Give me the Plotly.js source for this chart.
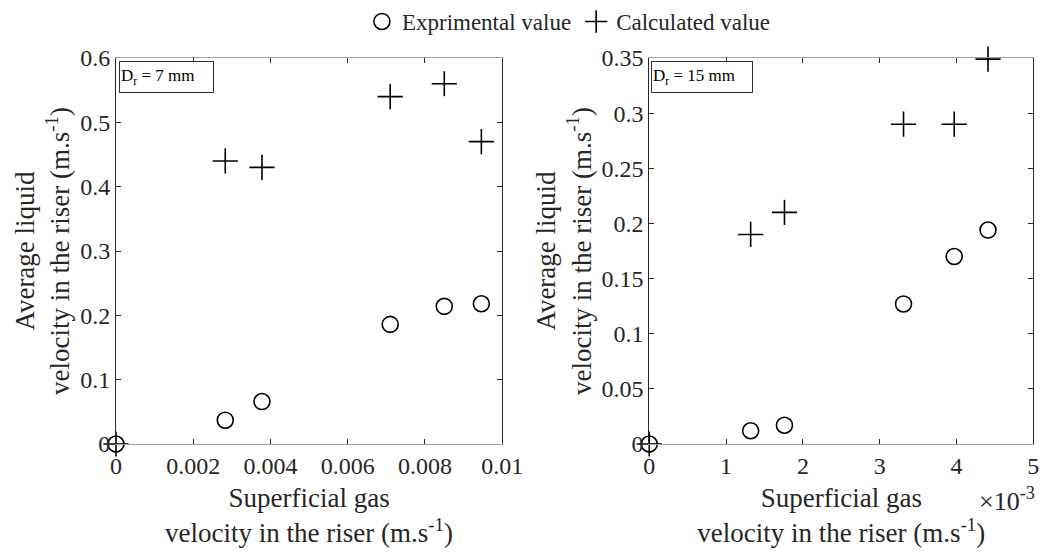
<!DOCTYPE html>
<html>
<head>
<meta charset="utf-8">
<script src="https://cdn.plot.ly/plotly-3.0.1.min.js"></script>
<style>html,body{margin:0;padding:0;background:#fff;}#chart{width:1040px;height:553px;}</style>
</head>
<body>
<div id="chart"></div>
<script>
// ---- Data ----
// Left panel: Dr = 7 mm
const gas7 = [0, 0.00283, 0.00378, 0.0071, 0.0085, 0.00946];
const exp7 = [0, 0.037, 0.066, 0.186, 0.214, 0.218];
const calc7 = [0, 0.44, 0.43, 0.54, 0.56, 0.47];
// Right panel: Dr = 15 mm
const gas15 = [0, 0.00132, 0.00176, 0.00331, 0.00397, 0.00441];
const exp15 = [0, 0.012, 0.017, 0.127, 0.170, 0.194];
const calc15 = [0, 0.19, 0.21, 0.29, 0.29, 0.349];

// Tick values / labels
const x1TickVals = [0, 0.002, 0.004, 0.006, 0.008, 0.01];
const x1TickText = ['0', '0.002', '0.004', '0.006', '0.008', '0.01'];
const y1TickVals = [0, 0.1, 0.2, 0.3, 0.4, 0.5, 0.6];
const y1TickText = ['0', '0.1', '0.2', '0.3', '0.4', '0.5', '0.6'];
const x2TickVals = [0, 0.001, 0.002, 0.003, 0.004, 0.005];
const x2TickText = ['0', '1', '2', '3', '4', '5'];
const y2TickVals = [0, 0.05, 0.1, 0.15, 0.2, 0.25, 0.3, 0.35];
const y2TickText = ['0', '0.05', '0.1', '0.15', '0.2', '0.25', '0.3', '0.35'];

const seriesNames = ['Exprimental value', 'Calculated value'];
const panelLabels = ['D<sub>r</sub> = 7 mm', 'D<sub>r</sub> = 15 mm'];
const xTitle = 'Superficial gas<br>velocity in the riser (m.s<sup>-1</sup>)';
const yTitle = 'Average liquid<br>velocity in the riser (m.s<sup>-1</sup>)';

// ---- Styles ----
const FONT = "'Liberation Serif', 'Times New Roman', serif";
const TXT = '#262626';
const circleMarker = {symbol: 'circle-open', size: 16, color: '#000', line: {width: 1.6, color: '#000'}};
const crossMarker = {symbol: 'cross-thin-open', size: 18, color: '#000', line: {width: 1.6, color: '#000'}};

const traces = [
  {x: gas7, y: exp7, xaxis: 'x', yaxis: 'y', mode: 'markers', name: seriesNames[0], legendgroup: 'e', showlegend: true, marker: circleMarker, cliponaxis: false},
  {x: gas7, y: calc7, xaxis: 'x', yaxis: 'y', mode: 'markers', name: seriesNames[1], legendgroup: 'c', showlegend: true, marker: crossMarker, cliponaxis: false},
  {x: gas15, y: exp15, xaxis: 'x2', yaxis: 'y2', mode: 'markers', name: seriesNames[0], legendgroup: 'e', showlegend: false, marker: circleMarker, cliponaxis: false},
  {x: gas15, y: calc15, xaxis: 'x2', yaxis: 'y2', mode: 'markers', name: seriesNames[1], legendgroup: 'c', showlegend: false, marker: crossMarker, cliponaxis: false}
];

function xAxis(domain, range, tv, tt, anchor) {
  return {
    domain: domain, range: range, anchor: anchor,
    tickvals: tv, ticktext: tt,
    ticks: 'inside', ticklen: 5, tickwidth: 1, tickcolor: '#262626',
    mirror: 'ticks', showline: true, linecolor: '#a0a0a0', linewidth: 1,
    showgrid: false, zeroline: false,
    tickfont: {family: FONT, size: 24, color: TXT},
    title: {text: xTitle, font: {family: FONT, size: 27, color: TXT}, standoff: 10}
  };
}
function yAxis(domain, range, tv, tt, anchor) {
  return {
    domain: domain, range: range, anchor: anchor,
    tickvals: tv, ticktext: tt,
    ticks: 'inside', ticklen: 5, tickwidth: 1, tickcolor: '#262626',
    mirror: 'ticks', showline: true, linecolor: '#262626', linewidth: 1,
    showgrid: false, zeroline: false,
    tickfont: {family: FONT, size: 24, color: TXT},
    title: {text: yTitle, font: {family: FONT, size: 27, color: TXT}, standoff: 2}
  };
}

const yDom = [0.1971, 0.8951];
const layout = {
  width: 1040, height: 553,
  margin: {l: 0, r: 0, t: 0, b: 0},
  paper_bgcolor: '#fff', plot_bgcolor: '#fff',
  font: {family: FONT, color: TXT},
  showlegend: true,
  legend: {
    orientation: 'h', x: 0.348, xanchor: 'left', y: 1.0, yanchor: 'top',
    font: {family: FONT, size: 23, color: TXT},
    itemwidth: 30, bgcolor: 'rgba(0,0,0,0)', tracegroupgap: 0
  },
  xaxis: xAxis([0.1115, 0.4829], [0, 0.01], x1TickVals, x1TickText, 'y'),
  yaxis: yAxis(yDom, [0, 0.6], y1TickVals, y1TickText, 'x'),
  xaxis2: xAxis([0.6243, 0.9936], [0, 0.005], x2TickVals, x2TickText, 'y2'),
  yaxis2: yAxis(yDom, [0, 0.35], y2TickVals, y2TickText, 'x2'),
  annotations: [
    {xref: 'x domain', yref: 'y domain', x: 0.008, y: 0.991, xanchor: 'left', yanchor: 'top',
     text: panelLabels[0], showarrow: false, align: 'left', width: 91, height: 28,
     font: {family: FONT, size: 17, color: '#000'}, bordercolor: '#333', borderwidth: 1, borderpad: 1, bgcolor: '#fff'},
    {xref: 'x2 domain', yref: 'y2 domain', x: 0.005, y: 0.991, xanchor: 'left', yanchor: 'top',
     text: panelLabels[1], showarrow: false, align: 'left', width: 98, height: 28,
     font: {family: FONT, size: 17, color: '#000'}, bordercolor: '#333', borderwidth: 1, borderpad: 1, bgcolor: '#fff'},
    {xref: 'paper', yref: 'paper', x: 0.997, y: 0.097, xanchor: 'right', yanchor: 'middle',
     text: '\u00d710<sup>-3</sup>', showarrow: false,
     font: {family: FONT, size: 26, color: TXT}}
  ]
};

Plotly.newPlot('chart', traces, layout, {displayModeBar: false, staticPlot: true});
</script>
</body>
</html>
